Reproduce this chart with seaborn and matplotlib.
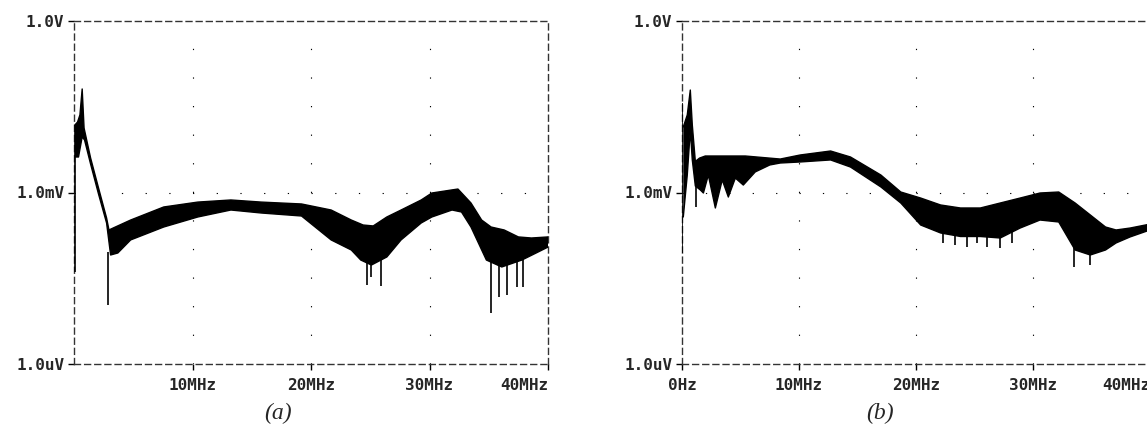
import numpy as np
import pandas as pd
import matplotlib
matplotlib.use("Agg")
import matplotlib.pyplot as plt
import seaborn as sns

# Panel (a): envelope of the response band, frequency in MHz, level in mV
a_up_freq = [0.08, 0.3, 0.5, 0.69, 0.85, 1.4, 2.07, 2.75, 2.95, 3.3, 4.78, 7.57,
             10.45, 13.24, 15.8, 19.2, 21.7, 23.4, 24.4, 25.25, 26.4, 27.6, 29.3,
             30.2, 31.9, 32.4, 33.5, 34.4, 35.2, 36.3, 37.5, 38.6, 40.0]
a_up_mv = [15.2, 17.1, 22.7, 64.7, 13.4, 4.02, 1.20, 0.358, 0.221, 0.239, 0.330, 0.558,
           0.68, 0.74, 0.68, 0.63, 0.494, 0.330, 0.270, 0.26, 0.373, 0.494, 0.74,
           0.98, 1.11, 1.15, 0.655, 0.330, 0.249, 0.221, 0.167, 0.160, 0.167]
a_lo_freq = [0.08, 0.38, 0.69, 0.89, 1.4, 2.07, 2.75, 3.09, 3.7, 4.78, 7.57, 10.45,
             13.24, 15.8, 19.2, 21.7, 23.4, 24.2, 25.1, 26.4, 27.6, 29.3, 30.2, 31.9,
             32.7, 33.5, 34.8, 36.1, 37.8, 39.0, 40.0]
a_lo_mv = [4.18, 4.18, 9.4, 8.3, 3.15, 0.94, 0.293, 0.0807, 0.0875, 0.148, 0.249, 0.373,
           0.494, 0.438, 0.388, 0.148, 0.0987, 0.0659, 0.0539, 0.0745, 0.148, 0.293, 0.373, 0.494,
           0.456, 0.249, 0.0659, 0.0498, 0.0659, 0.0875, 0.111]
# Panel (a): narrow spikes (frequency, bottom, top)
a_spk_freq = [0.08, 2.83, 24.7, 25.1, 25.9, 35.2, 35.9, 36.5, 37.4, 37.9]
a_spk_lo = [0.0407, 0.0108, 0.0241, 0.0333, 0.0232, 0.0078, 0.0149, 0.0161, 0.0222, 0.0222]
a_spk_hi = [15.2, 0.09, 0.07, 0.06, 0.08, 0.07, 0.06, 0.06, 0.07, 0.08]

# Panel (b)
b_up_freq = [0.11, 0.45, 0.71, 0.88, 1.14, 1.5, 1.99, 5.41, 8.4, 10.1, 12.7, 14.4, 17.0,
             18.7, 20.4, 22.1, 23.8, 25.5, 27.2, 28.9, 30.6, 32.2, 33.6, 34.9, 36.2,
             37.1, 38.3, 40.0]
b_up_mv = [14.0, 22.7, 62.0, 15.2, 3.5, 4.0, 4.35, 4.35, 3.85, 4.53, 5.32, 4.18, 2.02,
           1.02, 0.80, 0.605, 0.536, 0.536, 0.655, 0.80, 0.98, 1.02, 0.655, 0.404, 0.249,
           0.221, 0.239, 0.28]
b_lo_freq = [0.11, 0.45, 0.71, 0.88, 1.14, 1.56, 1.83, 2.25, 2.85, 3.44, 3.96, 4.56, 5.24,
             6.26, 7.5, 8.4, 10.1, 12.7, 14.4, 17.0, 18.7, 20.4, 22.1, 23.8, 25.5, 27.2,
             28.9, 30.6, 32.2, 33.6, 34.9, 36.2, 37.1, 38.3, 40.0]
b_lo_mv = [0.373, 2.02, 12.4, 3.71, 1.3, 1.11, 0.98, 2.02, 0.536, 1.66, 0.834, 1.79, 1.35,
           2.29, 3.03, 3.28, 3.42, 3.71, 2.79, 1.25, 0.655, 0.27, 0.196, 0.17, 0.17, 0.16,
           0.239, 0.330, 0.305, 0.0987, 0.0807, 0.0987, 0.131, 0.167, 0.221]
b_spk_freq = [0.03, 1.2, 22.3, 23.3, 24.4, 25.2, 26.1, 27.2, 28.2, 33.5, 34.9]
b_spk_lo = [0.0875, 0.558, 0.131, 0.121, 0.111, 0.131, 0.111, 0.106, 0.131, 0.0498, 0.0539]
b_spk_hi = [36.8, 3.7, 0.2, 0.2, 0.2, 0.2, 0.2, 0.2, 0.22, 0.12, 0.1]

x_ticks_a = [10, 20, 30, 40]
x_labels_a = ["10MHz", "20MHz", "30MHz", "40MHz"]
x_ticks_b = [0, 10, 20, 30, 40]
x_labels_b = ["0Hz", "10MHz", "20MHz", "30MHz", "40MHz"]
y_ticks = [1e-3, 1, 1e3]
y_labels = ["1.0uV", "1.0mV", "1.0V"]

sns.set_style("white")
plt.rcParams["lines.scale_dashes"] = False

W, H = 11.47, 4.30
fig = plt.figure(figsize=(W, H), dpi=100)
bottom, height = 66 / 430, 343 / 430
ax_a = fig.add_axes([74 / 1147, bottom, 474 / 1147, height])
ax_b = fig.add_axes([682 / 1147, bottom, 468 / 1147, height])

tick_font = {"family": "DejaVu Sans Mono", "weight": "bold", "size": 11.5}


def draw_panel(ax, up_f, up_v, lo_f, lo_v, sk_f, sk_lo, sk_hi, xt, xl):
    ax.set_yscale("log")
    ax.set_xlim(0, 40)
    ax.set_ylim(1e-3, 1e3)
    # dotted grid: dots every half decade / every 2 MHz
    ax_w_pt = ax.get_position().width * W * 72
    ax_h_pt = ax.get_position().height * H * 72
    vper = ax_h_pt / 12
    hper = ax_w_pt / 20
    for x in [10, 20, 30]:
        ax.axvline(x, color="black", lw=0.8, linestyle=(0, (0.9, vper - 0.9)),
                   dash_capstyle="butt", zorder=1)
    ax.axhline(1, color="black", lw=0.8, linestyle=(0, (0.9, hper - 0.9)),
               dash_capstyle="butt", zorder=1)

    band_x = list(up_f) + list(lo_f)[::-1]
    band_y = list(up_v) + list(lo_v)[::-1]
    ax.fill(band_x, band_y, color="black", lw=0, zorder=3)
    sns.lineplot(x=up_f, y=up_v, ax=ax, color="black", lw=1.0, sort=False,
                 estimator=None, zorder=4)
    sns.lineplot(x=lo_f, y=lo_v, ax=ax, color="black", lw=1.0, sort=False,
                 estimator=None, zorder=4)
    ax.vlines(sk_f, sk_lo, sk_hi, color="black", lw=1.2, zorder=4)

    for s in ax.spines.values():
        s.set_visible(True)
        s.set_linestyle((0, (4.3, 3.0)))
        s.set_color("#333333")
        s.set_linewidth(1.0)
        s.set_zorder(2)

    ax.set_xticks(xt)
    ax.set_xticklabels(xl, fontdict=tick_font)
    # last frequency label sits flush with the right end of the axis
    ax.get_xticklabels()[-1].set_horizontalalignment("right")
    ax.set_yticks(y_ticks)
    ax.set_yticklabels(y_labels, fontdict=tick_font)
    ax.yaxis.set_minor_locator(matplotlib.ticker.NullLocator())
    ax.tick_params(axis="both", which="major", direction="out", length=4, width=1,
                   color="black", left=True, bottom=True)
    ax.tick_params(axis="x", pad=6)
    ax.tick_params(axis="y", pad=3)
    ax.set_xlabel("")
    ax.set_ylabel("")


draw_panel(ax_a, a_up_freq, a_up_mv, a_lo_freq, a_lo_mv,
           a_spk_freq, a_spk_lo, a_spk_hi, x_ticks_a, x_labels_a)
draw_panel(ax_b, b_up_freq, b_up_mv, b_lo_freq, b_lo_mv,
           b_spk_freq, b_spk_lo, b_spk_hi, x_ticks_b, x_labels_b)

fig.text(278 / 1147, 1 - 413 / 430, "(a)", ha="center", va="center",
         family="Liberation Serif", style="italic", fontsize=17)
fig.text(880 / 1147, 1 - 413 / 430, "(b)", ha="center", va="center",
         family="Liberation Serif", style="italic", fontsize=17)

fig.savefig("out.png", dpi=100)
